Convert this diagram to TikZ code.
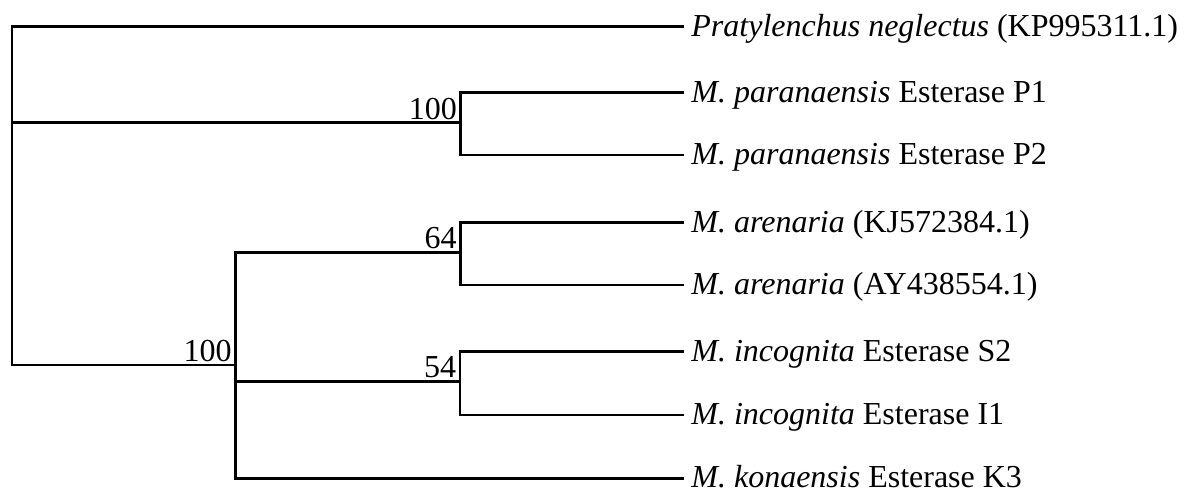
\documentclass[tikz,border=0pt]{standalone}
\usepackage{fontspec}
\setmainfont{Liberation Serif}
\begin{document}
\begin{tikzpicture}[x=1pt, y=-1pt, line width=2.8pt, font=\fontsize{32}{38}\selectfont,
  leaf/.style={anchor=base west, inner sep=6pt, yshift=-9.5pt},
  boot/.style={anchor=base east, inner sep=2.5pt, yshift=3.7pt}]
\useasboundingbox (0,0) rectangle (1195,496);
\coordinate (root) at (12,122.7);
\coordinate (n1) at (460.7,122.7);
\coordinate (n2) at (235.5,365);
\coordinate (na) at (460.5,252.4);
\coordinate (ni) at (460,381.2);
\coordinate (lp) at (684,26.7);
\coordinate (l1) at (684,92.7);
\coordinate (l2) at (684,155);
\coordinate (l3) at (684,222.7);
\coordinate (l4) at (684,285);
\coordinate (l5) at (684,351.7);
\coordinate (l6) at (684,415);
\coordinate (l7) at (684,478.3);
\node[leaf] (pn) at (lp) {\textit{Pratylenchus neglectus} (KP995311.1)};
\node[leaf] (p1) at (l1) {\textit{M. paranaensis} Esterase P1};
\node[leaf] (p2) at (l2) {\textit{M. paranaensis} Esterase P2};
\node[leaf] (a1) at (l3) {\textit{M. arenaria} (KJ572384.1)};
\node[leaf] (a2) at (l4) {\textit{M. arenaria} (AY438554.1)};
\node[leaf] (s2) at (l5) {\textit{M. incognita} Esterase S2};
\node[leaf] (i1) at (l6) {\textit{M. incognita} Esterase I1};
\node[leaf] (k3) at (l7) {\textit{M. konaensis} Esterase K3};
\draw (root) |- (lp);
\draw (root) -- (n1);
\draw (root) |- (n2);
\draw (n1) |- (l1);
\draw (n1) |- (l2);
\draw (n2) |- (na);
\draw (n2) |- (ni);
\draw (n2) |- (l7);
\draw (na) |- (l3);
\draw (na) |- (l4);
\draw (ni) |- (l5);
\draw (ni) |- (l6);
\node[boot] (b1) at (n1) {100};
\node[boot] (b2) at (n2) {100};
\node[boot] (b3) at (na) {64};
\node[boot] (b4) at (ni) {54};
\end{tikzpicture}
\end{document}
